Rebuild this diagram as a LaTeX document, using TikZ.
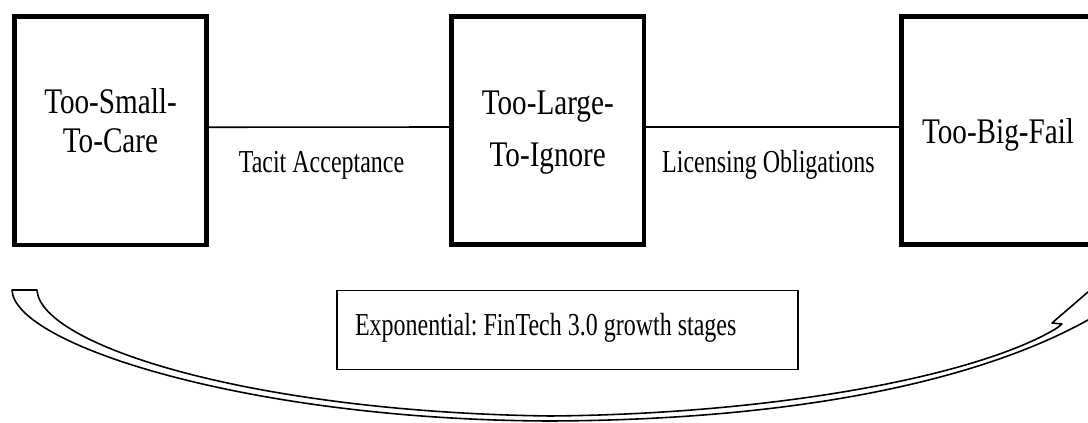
\documentclass[tikz,border=0pt]{standalone}
\usepackage{fontspec}
\newfontfamily\titlefont[FakeStretch=0.81]{Liberation Serif}
\newfontfamily\labelfont[FakeStretch=0.75]{Liberation Serif}
\usetikzlibrary{positioning}

\begin{document}
\begin{tikzpicture}[
  stage/.style={
    rectangle, draw, line width=2.8pt,
    minimum width=3.85cm, minimum height=4.57cm,
    inner sep=0pt, fill=white
  },
  stagetext/.style={
    align=center, inner sep=0pt,
    font=\titlefont\fontsize{20.5pt}{22.2pt}\selectfont
  },
  link/.style={line width=0.9pt},
  linklabel/.style={anchor=base, inner sep=0pt,
    font=\labelfont\fontsize{18.2pt}{20pt}\selectfont},
  growth/.style={
    rectangle, draw, line width=0.9pt, fill=white,
    inner xsep=0.36cm, inner ysep=0pt,
    text height=0.89cm, text depth=0.69cm,
    font=\labelfont\fontsize{18.2pt}{20pt}\selectfont\frenchspacing
  },
  ribbon/.style={draw, line width=0.9pt, fill=white, line join=round}
]
\clip (0,0) rectangle (21.76,-8.46);

% Stages
\node[stage, label={[stagetext, yshift=0.21cm]center:{Too-Small-\\To-Care}}]
  (B1) at (2.21,-2.615) {};
\node[stage, label={[stagetext, yshift=-0.04cm]center:{Too-Large-\\[7.4pt]To-Ignore}}]
  (B2) at (10.955,-2.61) {};
\node[stage, label={[stagetext, yshift=-0.08cm]center:{Too-Big-Fail}}]
  (B3) at (19.96,-2.61) {};

% Links between stages
\draw[link] ([yshift=0.07cm]B1.east) -- ([yshift=0.07cm]B2.west);
\draw[link] ([yshift=0.07cm]B2.east) -- ([yshift=0.07cm]B3.west);
\node[linklabel] (L1) at (6.43,-3.455) {Tacit Acceptance};
\node[linklabel] (L2) at (15.37,-3.455) {Licensing Obligations};

% Growth note, text kept to the left of the box
\node[growth] (G) at (11.35,-6.60)
  {\makebox[8.5cm][l]{Exponential: FinTech 3.0 growth stages}};

% Curved arrow underneath
\draw[ribbon] (0.24,-5.80)
  .. controls (0.28,-6.90) and (5.00,-8.40) .. (11.00,-8.42)
  .. controls (16.00,-8.40) and (19.60,-7.60) .. (21.76,-6.40)
  -- (22.20,-6.10) -- (22.20,-5.50) -- (21.76,-5.84)
  -- (21.04,-6.46) -- (21.24,-6.48) -- (21.14,-6.56)
  .. controls (19.60,-7.50) and (15.60,-8.28) .. (11.00,-8.32)
  .. controls (5.00,-8.24) and (0.80,-6.90) .. (0.74,-5.80)
  -- cycle;
\end{tikzpicture}
\end{document}
